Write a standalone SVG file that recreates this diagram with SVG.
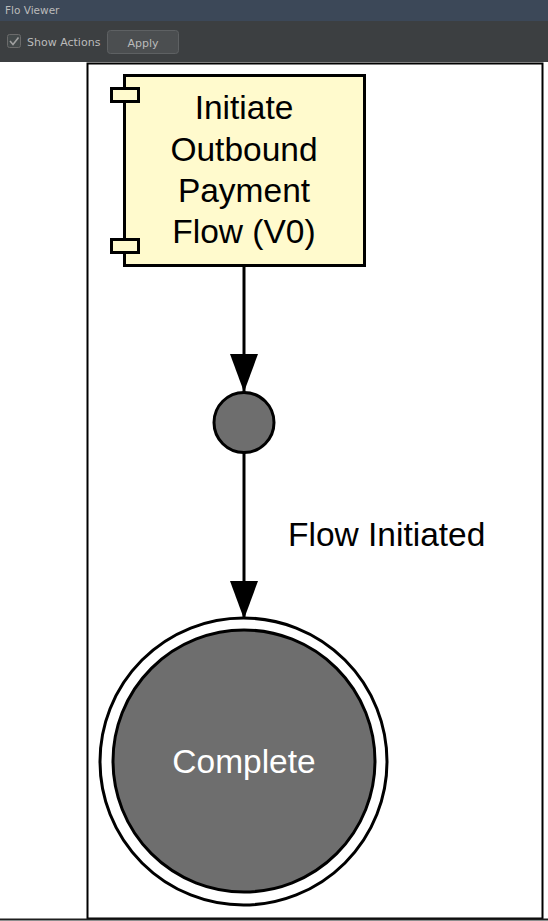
<svg xmlns="http://www.w3.org/2000/svg" width="548" height="921" viewBox="0 0 548 921">
<defs>
<style>
.ui{font-family:"DejaVu Sans","Liberation Sans",sans-serif;font-size:11px;fill:#bbbbbb}
.lbl{font-family:"Liberation Sans",Arial,sans-serif;font-size:33.5px;fill:#000;text-anchor:middle}
.edge{stroke:#000;stroke-width:3;fill:none}
.port{fill:#fffacd;stroke:#000;stroke-width:3}
.state{fill:#6e6e6e;stroke:#000;stroke-width:3}
</style>
<marker id="arr" viewBox="0 0 38 28" markerWidth="38" markerHeight="28" refX="38" refY="14" orient="auto" markerUnits="userSpaceOnUse">
<path d="M0,0 L38,14 L0,28 Z" fill="#000"/>
</marker>
</defs>
<rect x="0" y="0" width="548" height="921" fill="#ffffff"/>
<g id="titlebar">
<rect x="0" y="0" width="548" height="21" fill="#3c4858"/>
<text x="5" y="14" class="ui" style="font-size:10.5px">Flo Viewer</text>
</g>
<g id="toolbar">
<rect x="0" y="21" width="548" height="41" fill="#3c3f41"/>
<rect x="7.5" y="34.5" width="13" height="13" rx="2" fill="#43494a" stroke="#6b6b6b"/>
<path d="M10,41 L13,44.5 L18.5,37.5" stroke="#a0a0a0" stroke-width="1.6" fill="none"/>
<text x="27" y="46" class="ui">Show Actions</text>
<rect x="107.5" y="30.5" width="71" height="23" rx="3" fill="#4b4e50" stroke="#5e6163"/>
<text x="143" y="47" class="ui" text-anchor="middle">Apply</text>
</g>
<rect x="87.5" y="63.5" width="455" height="855" fill="#ffffff" stroke="#000" stroke-width="2"/>
<line x1="0" y1="919.5" x2="548" y2="919.5" stroke="#1e1e1e" stroke-width="2"/>
<g id="connectors">
<line class="edge" x1="244" y1="266" x2="244" y2="392" marker-end="url(#arr)"/>
<line class="edge" x1="244" y1="453" x2="244" y2="619" marker-end="url(#arr)"/>
<text x="288" y="546" class="lbl" style="text-anchor:start">Flow Initiated</text>
</g>
<g id="node-initiate">
<rect x="124.5" y="75.5" width="240" height="190" fill="#fffacd" stroke="#000" stroke-width="3"/>
<rect class="port" x="111.5" y="88.5" width="27" height="13"/>
<rect class="port" x="111.5" y="239.5" width="27" height="13"/>
<text class="lbl" x="244" y="119">Initiate</text>
<text class="lbl" x="244" y="161">Outbound</text>
<text class="lbl" x="244" y="202">Payment</text>
<text class="lbl" x="244" y="243">Flow (V0)</text>
</g>
<g id="node-junction">
<circle class="state" cx="244" cy="422.5" r="30"/>
</g>
<g id="node-complete">
<circle cx="243.5" cy="761.5" r="143.5" fill="#ffffff" stroke="#000" stroke-width="3"/>
<circle class="state" cx="244" cy="761" r="131"/>
<text class="lbl" x="244" y="773" style="fill:#ffffff">Complete</text>
</g>
</svg>
